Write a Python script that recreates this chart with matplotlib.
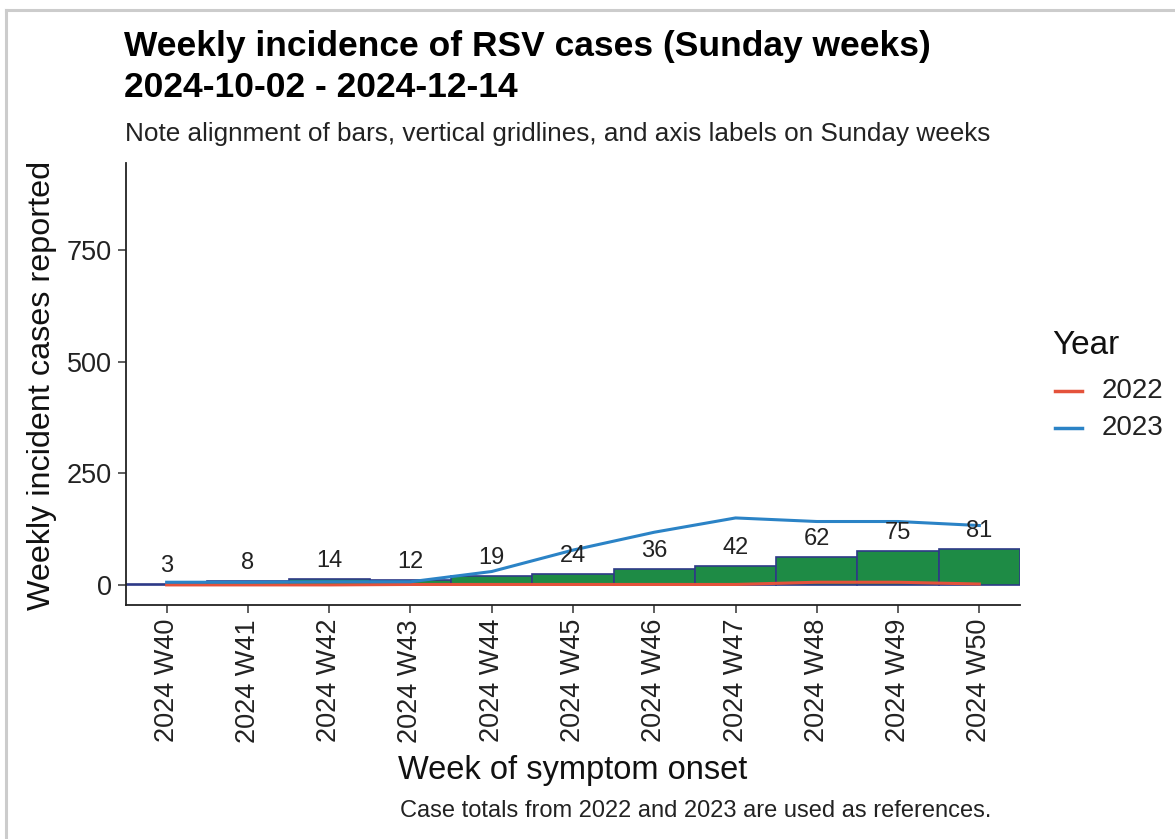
import matplotlib
matplotlib.use('Agg')
import matplotlib.pyplot as plt
from matplotlib.lines import Line2D
import numpy as np

plt.rcParams['font.family'] = ['Liberation Sans', 'DejaVu Sans']

# data
weeks = ['2024 W40', '2024 W41', '2024 W42', '2024 W43', '2024 W44', '2024 W45',
         '2024 W46', '2024 W47', '2024 W48', '2024 W49', '2024 W50']
cases = [3, 8, 14, 12, 19, 24, 36, 42, 62, 75, 81]
ref_2022 = [0, 0, 0, 1, 1, 1, 1, 1, 6, 6, 2]
ref_2023 = [6, 6, 7, 7, 30, 78, 118, 150, 142, 142, 133]

W, H = 1175, 839
fig = plt.figure(figsize=(W / 100, H / 100), dpi=100)
ax = fig.add_axes([126 / W, 1 - 605 / H, (1020 - 126) / W, (605 - 163) / H])

x = np.arange(len(weeks))
ax.bar(x, cases, width=1.0, color='#1e8b45', edgecolor='#2e3a87', linewidth=1.2, zorder=2)
ax.plot(x, ref_2022, color='#e4523b', linewidth=2.2, zorder=3)
ax.plot(x, ref_2023, color='#2b83c6', linewidth=2.2, zorder=3)

for xi, v in zip(x, cases):
    ax.annotate(str(v), (xi, v), xytext=(0, 5), textcoords='offset points',
                ha='center', va='bottom', fontsize=17, color='#222222', zorder=4)

ax.set_xlim(-0.5, len(weeks) - 0.5)
ax.set_ylim(-45, 945)
ax.set_yticks([0, 250, 500, 750])
ax.set_xticks(x)
ax.set_xticklabels(weeks, rotation=90)
ax.tick_params(axis='both', labelsize=19.5, length=6, width=1.1, color='#333333',
               labelcolor='#222222', pad=4)
for s in ['top', 'right']:
    ax.spines[s].set_visible(False)
for s in ['left', 'bottom']:
    ax.spines[s].set_linewidth(1.3)
    ax.spines[s].set_color('#222222')

# titles and labels
fig.text(124 / W, 1 - 30 / H, 'Weekly incidence of RSV cases (Sunday weeks)\n2024-10-02 - 2024-12-14',
         ha='left', va='top', fontsize=25.5, fontweight='bold', linespacing=1.3)
fig.text(125 / W, 1 - 134 / H, 'Note alignment of bars, vertical gridlines, and axis labels on Sunday weeks',
         ha='left', va='center', fontsize=18.8, color='#222222')
fig.text(42 / W, 1 - 385 / H, 'Weekly incident cases reported', rotation=90,
         ha='center', va='center', fontsize=23.3, color='#111111')
fig.text(573 / W, 1 - 770 / H, 'Week of symptom onset', ha='center', va='center',
         fontsize=23.5, color='#111111')
fig.text(991 / W, 1 - 811 / H, 'Case totals from 2022 and 2023 are used as references.',
         ha='right', va='center', fontsize=17, color='#222222')

# legend
fig.text(1052 / W, 1 - 345 / H, 'Year', ha='left', va='center', fontsize=24, color='#111111')
for yy, lab, col in [(391, '2022', '#e4523b'), (428, '2023', '#2b83c6')]:
    fig.add_artist(Line2D([1055 / W, 1082 / W], [1 - yy / H, 1 - yy / H], color=col, linewidth=2.5))
    fig.text(1102 / W, 1 - yy / H, lab, ha='left', va='center', fontsize=20, color='#222222')

# screenshot frame
fig.add_artist(Line2D([6 / W, 1], [1 - 10 / H, 1 - 10 / H], color='#cccccc', linewidth=2.2))
fig.add_artist(Line2D([6 / W, 6 / W], [0, 1 - 10 / H], color='#cccccc', linewidth=2.2))

fig.savefig('out.png', dpi=100)
